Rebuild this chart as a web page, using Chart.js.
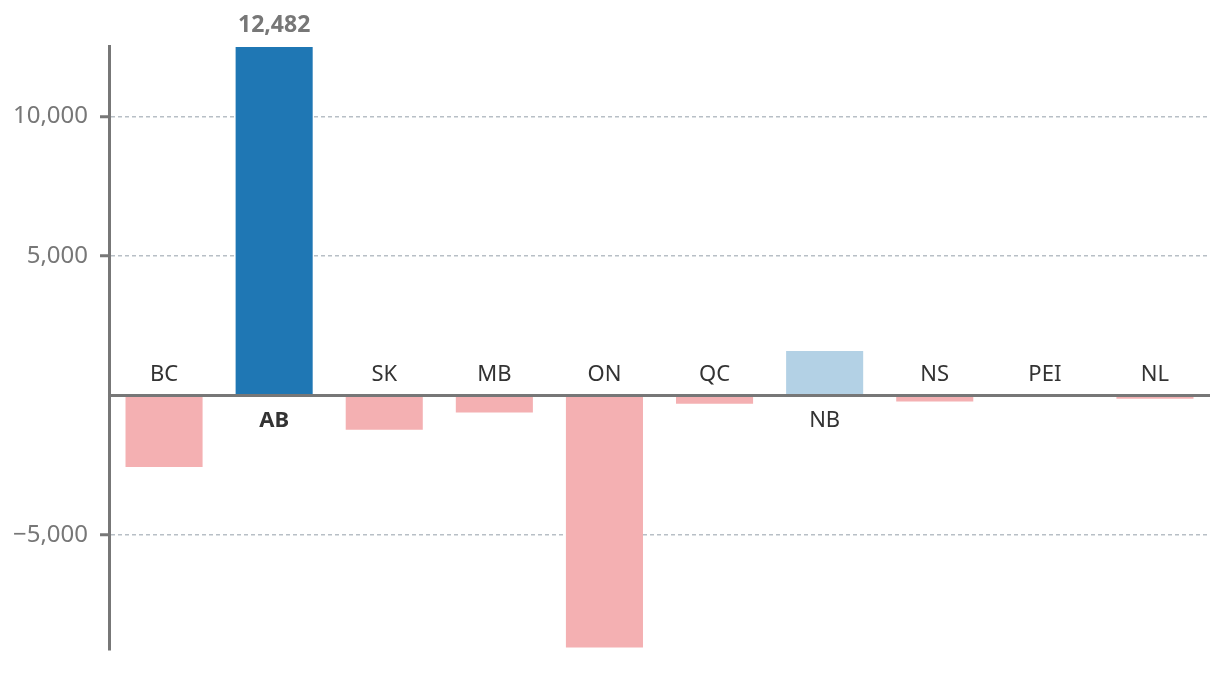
<!DOCTYPE html>
<html>
<head>
<meta charset="utf-8">
<script src="https://cdn.jsdelivr.net/npm/chart.js@4"></script>
<style>
  html, body { margin: 0; padding: 0; background: #fff; }
  #wrap { width: 1220px; height: 700px; }
</style>
</head>
<body>
<div id="wrap"><canvas id="chart" width="1220" height="700"></canvas></div>
<script>
// provinces and their values
const provinces = ['BC', 'AB', 'SK', 'MB', 'ON', 'QC', 'NB', 'NS', 'PEI', 'NL'];
const values = [-2560, 12482, -1225, -615, -9030, -295, 1590, -220, -40, -115];
const yTicks = [-5000, 5000, 10000];
const highlight = 'AB';

const FONT = '"Noto Sans", "Open Sans", sans-serif';

function fmt(v) {
    const s = Math.abs(v).toLocaleString('en-US');
    return v < 0 ? '\u2212' + s : s;
}

// zero line, province names and the one value label
const labelsPlugin = {
    id: 'provLabels',
    afterDatasetsDraw(chart) {
        const ctx = chart.ctx;
        const xs = chart.scales.x;
        const ys = chart.scales.y;
        const zeroY = ys.getPixelForValue(0);
        const area = chart.chartArea;

        ctx.save();
        ctx.strokeStyle = '#777';
        ctx.lineWidth = 3;
        ctx.beginPath();
        ctx.moveTo(area.left, zeroY);
        ctx.lineTo(area.right, zeroY);
        ctx.stroke();

        ctx.textAlign = 'center';
        ctx.textBaseline = 'alphabetic';
        provinces.forEach((p, i) => {
            const x = xs.getPixelForValue(i);
            const bold = p === highlight;
            ctx.font = (bold ? 'bold ' : '') + '22px ' + FONT;
            ctx.fillStyle = '#333';
            if (values[i] < 0) {
                ctx.fillText(p, x, zeroY - 14);
            } else {
                ctx.fillText(p, x, zeroY + 32);
            }
            if (bold) {
                ctx.font = 'bold 23px ' + FONT;
                ctx.fillStyle = '#777';
                ctx.fillText(fmt(values[i]), x, ys.getPixelForValue(values[i]) - 15);
            }
        });
        ctx.restore();
    }
};

const ctx = document.getElementById('chart').getContext('2d');
const chart = new Chart(ctx, {
    type: 'bar',
    data: {
        labels: provinces,
        datasets: [{
            data: values,
            backgroundColor: (c) => {
                const v = values[c.dataIndex];
                if (v < 0) return '#f4b0b2';
                return provinces[c.dataIndex] === highlight ? '#1f77b4' : '#b3d1e5';
            },
            borderWidth: 0,
            barPercentage: 0.7,
            categoryPercentage: 1.0
        }]
    },
    options: {
        responsive: false,
        animation: false,
        layout: { padding: { top: 46, bottom: 50, left: 0, right: 10 } },
        plugins: {
            legend: { display: false },
            tooltip: { enabled: false }
        },
        scales: {
            x: { display: false },
            y: {
                min: -9120,
                max: 12520,
                afterBuildTicks: (scale) => {
                    scale.ticks = yTicks.map(v => ({ value: v }));
                },
                afterFit: (scale) => { scale.width = 109; },
                ticks: {
                    color: '#777',
                    font: { family: FONT, size: 24 },
                    padding: 12,
                    callback: (v) => fmt(v)
                },
                grid: {
                    color: '#b8bfc6',
                    lineWidth: 1.5,
                    tickLength: 9,
                    tickColor: '#777',
                    tickWidth: 3,
                    tickBorderDash: []
                },
                border: {
                    display: true,
                    color: '#777',
                    width: 3,
                    dash: [4, 3]
                }
            }
        }
    },
    plugins: [labelsPlugin]
});
</script>
</body>
</html>
